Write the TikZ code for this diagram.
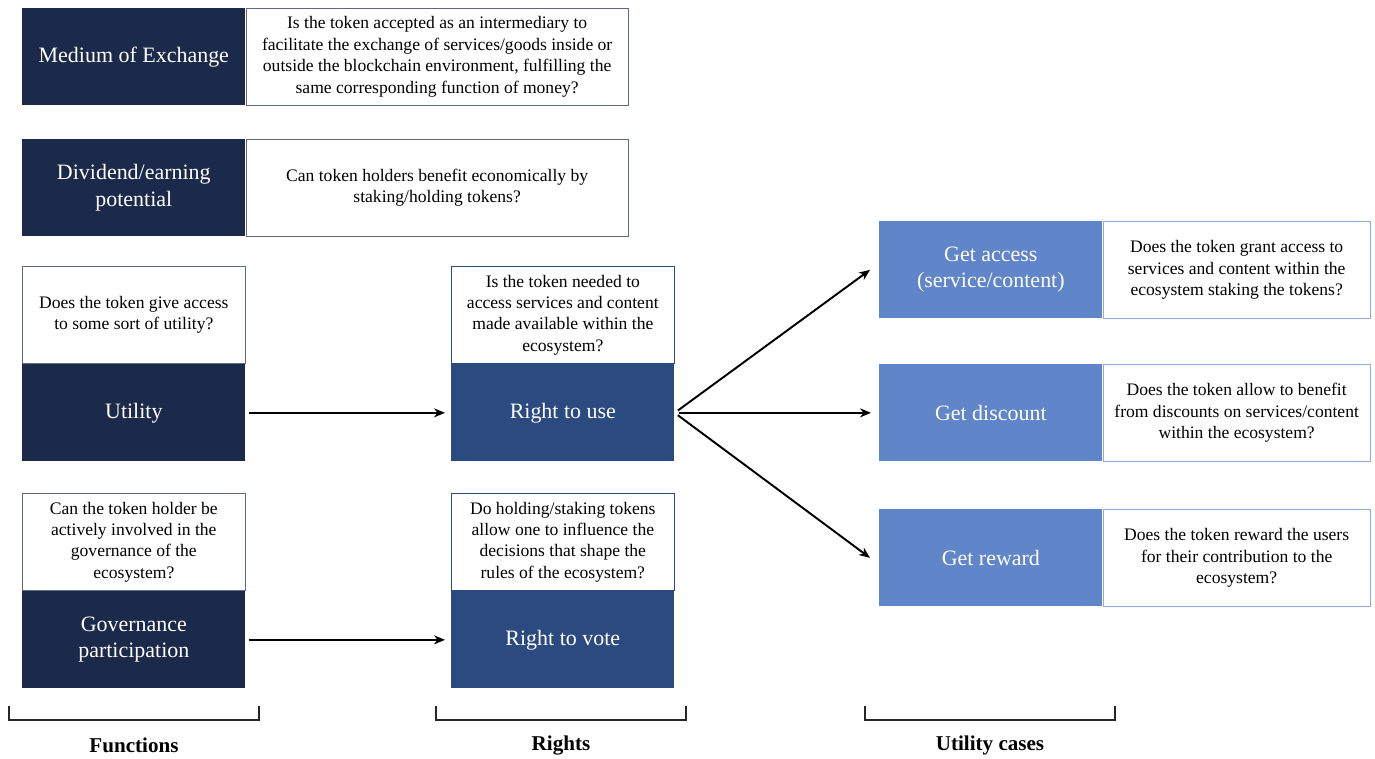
\documentclass[tikz,border=0pt]{standalone}
\usepackage{fontspec}
\setmainfont{Liberation Serif}
\usetikzlibrary{arrows.meta,positioning}
\definecolor{tknavy}{HTML}{1B2A4A}
\definecolor{tkblue}{HTML}{2B4A80}
\definecolor{tklight}{HTML}{6085C8}
\definecolor{tkedge}{HTML}{8FAADC}

\begin{document}
\begin{tikzpicture}[x=0.02cm, y=-0.02cm, node distance=0pt,
  box/.style={minimum width=4.46cm, minimum height=1.94cm, inner sep=2pt, align=center,
    text=white, font=\fontsize{12.5}{15}\selectfont},
  fbox/.style={box, fill=tknavy},
  rbox/.style={box, fill=tkblue},
  ubox/.style={box, fill=tklight},
  qbox/.style={minimum height=1.94cm, inner sep=2pt, align=center, fill=white,
    font=\fontsize{10}{12.2}\selectfont, draw=#1, line width=0.6pt},
  link/.style={-{Stealth[length=2.2mm,width=1.8mm]}, line width=1.1pt, black},
  bracket/.style={line width=1pt, black!85},
  colhead/.style={font=\fontsize{12}{14}\selectfont\bfseries}]

\useasboundingbox (0,0) rectangle (1375,758);

% Functions
\node[fbox, anchor=north west] (medx) at (22,8) {Medium of Exchange};
\node[qbox=tknavy!70, minimum width=7.64cm, right=of medx] (medxq)
  {Is the token accepted as an intermediary to\\facilitate the exchange of services/goods inside or\\outside the blockchain environment, fulfilling the\\same corresponding function of money?};

\node[fbox, anchor=north west] (divd) at (22,139) {Dividend/earning\\potential};
\node[qbox=tknavy!70, minimum width=7.64cm, right=of divd] (divdq)
  {Can token holders benefit economically by\\staking/holding tokens?};

\node[fbox, anchor=north west] (util) at (22,364) {Utility};
\node[qbox=tknavy!70, minimum width=4.46cm, above=of util] (utilq)
  {Does the token give access\\to some sort of utility?};

\node[fbox, anchor=north west] (govn) at (22,591) {Governance\\participation};
\node[qbox=tknavy!70, minimum width=4.46cm, above=of govn] (govnq)
  {Can the token holder be\\actively involved in the\\governance of the\\ecosystem?};

% Rights
\node[rbox, anchor=north west] (ruse) at (451,364) {Right to use};
\node[qbox=tkblue, minimum width=4.46cm, above=of ruse] (ruseq)
  {Is the token needed to\\access services and content\\made available within the\\ecosystem?};

\node[rbox, anchor=north west] (rvote) at (451,591) {Right to vote};
\node[qbox=tkblue, minimum width=4.46cm, above=of rvote] (rvoteq)
  {Do holding/staking tokens\\allow one to influence the\\decisions that shape the\\rules of the ecosystem?};

% Utility cases
\node[ubox, anchor=north west] (gacc) at (879,221) {Get access\\(service/content)};
\node[qbox=tkedge, minimum width=5.34cm, right=of gacc] (gaccq)
  {Does the token grant access to\\services and content within the\\ecosystem staking the tokens?};

\node[ubox, anchor=north west] (gdisc) at (879,364) {Get discount};
\node[qbox=tkedge, minimum width=5.34cm, right=of gdisc] (gdiscq)
  {Does the token allow to benefit\\from discounts on services/content\\within the ecosystem?};

\node[ubox, anchor=north west] (grew) at (879,509) {Get reward};
\node[qbox=tkedge, minimum width=5.34cm, right=of grew] (grewq)
  {Does the token reward the users\\for their contribution to the\\ecosystem?};

% Arrows
\draw[link, shorten <=0.06cm, shorten >=0.12cm] (util) -- (ruse);
\draw[link, shorten <=0.06cm, shorten >=0.12cm] (govn) -- (rvote);
\draw[link, shorten <=0.08cm] (ruse.east) -- ([xshift=-0.18cm]gacc.west);
\draw[link, shorten <=0.08cm, shorten >=0.16cm] (ruse.east) -- (gdisc.west);
\draw[link, shorten <=0.08cm] (ruse.east) -- ([xshift=-0.18cm]grew.west);

% Column brackets
\draw[bracket] (9,706) -- (9,720) -- (259,720) -- (259,706);
\draw[bracket] (436,706) -- (436,720) -- (686,720) -- (686,706);
\draw[bracket] (865,706) -- (865,720) -- (1115,720) -- (1115,706);
\node[colhead] (lfun) at (134,745) {Functions};
\node[colhead] (lrig) at (561,745) {Rights};
\node[colhead] (luti) at (990,745) {Utility cases};

\end{tikzpicture}
\end{document}
